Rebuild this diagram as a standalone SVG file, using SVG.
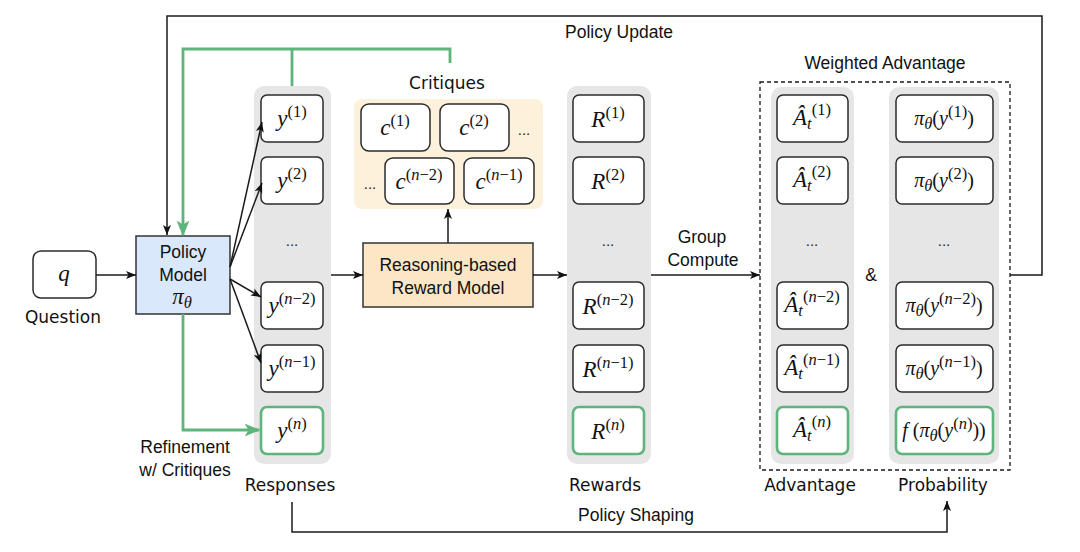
<svg xmlns="http://www.w3.org/2000/svg" width="1080" height="552" viewBox="0 0 1080 552">
<defs>
<style>
.bx{fill:#fff;stroke:#2b2b2b;stroke-width:1.5}
.gb{fill:#fff;stroke:#5fb47c;stroke-width:2.6}
.col{fill:#e6e6e6;stroke:none}
.ln{fill:none;stroke:#1a1a1a;stroke-width:1.5}
.gl{fill:none;stroke:#5fb47c;stroke-width:2.8}
.t{font-family:"Liberation Sans",Arial,sans-serif;font-size:17.5px;fill:#111;text-anchor:middle}
.c{font-family:"DejaVu Sans",sans-serif;font-size:17px;fill:#111;text-anchor:middle}
.m{font-family:"Liberation Serif","Times New Roman",serif;font-size:23px;fill:#111;text-anchor:middle}
.p{font-family:"Liberation Serif","Times New Roman",serif;font-size:20px;fill:#111;text-anchor:middle}
.i{font-style:italic}
.s{font-size:16.5px}
.d{font-family:"Liberation Sans",Arial,sans-serif;font-size:15px;fill:#222;text-anchor:middle}
</style>
<marker id="ah" viewBox="0 0 10 10" refX="10" refY="5" markerWidth="10" markerHeight="10" markerUnits="userSpaceOnUse" orient="auto"><path d="M0,1 L10,5 L0,9 L2.5,5 z" fill="#111"/></marker>
<marker id="gh" viewBox="0 0 10 10" refX="9" refY="5" markerWidth="16" markerHeight="16" markerUnits="userSpaceOnUse" orient="auto"><path d="M0,1 L10,5 L0,9 L2.5,5 z" fill="#5fb47c"/></marker>
</defs>
<rect width="1080" height="552" fill="#fff"/>

<g id="question">
<rect class="bx" x="33" y="251" width="63" height="47" rx="8"/>
<text class="m i" x="64" y="281">q</text>
<text class="c" x="63" y="323">Question</text>
</g>

<g id="policy-model">
<rect x="136" y="236" width="94" height="78" fill="#dae8fc" stroke="#333" stroke-width="1.5"/>
<text class="t" x="183" y="258">Policy</text>
<text class="t" x="183" y="281">Model</text>
<text class="m" x="182" y="304"><tspan class="i">π</tspan><tspan class="i s" dy="4">θ</tspan></text>
</g>

<g id="responses">
<rect class="col" x="254" y="86" width="77" height="378" rx="10"/>
<rect class="bx" x="261" y="95" width="62" height="47" rx="6"/>
<text class="m" x="292" y="126"><tspan class="i">y</tspan><tspan class="s" dy="-9">(1)</tspan></text>
<rect class="bx" x="261" y="157" width="62" height="47" rx="6"/>
<text class="m" x="292" y="188"><tspan class="i">y</tspan><tspan class="s" dy="-9">(2)</tspan></text>
<text class="d" x="292" y="246">...</text>
<rect class="bx" x="261" y="282" width="62" height="47" rx="6"/>
<text class="m" x="292" y="313"><tspan class="i">y</tspan><tspan class="s" dy="-9">(<tspan class="i">n</tspan>−2)</tspan></text>
<rect class="bx" x="261" y="345" width="62" height="47" rx="6"/>
<text class="m" x="292" y="376"><tspan class="i">y</tspan><tspan class="s" dy="-9">(<tspan class="i">n</tspan>−1)</tspan></text>
<rect class="gb" x="261" y="407" width="62" height="47" rx="6"/>
<text class="m" x="292" y="438"><tspan class="i">y</tspan><tspan class="s" dy="-9">(<tspan class="i">n</tspan>)</tspan></text>
<text class="c" x="290" y="491">Responses</text>
</g>

<g id="critiques">
<text class="c" x="447" y="89">Critiques</text>
<rect x="354" y="99" width="189" height="110" rx="8" fill="#fdf1dc"/>
<rect class="bx" x="361" y="104" width="69" height="47" rx="8"/>
<text class="m" x="395" y="135"><tspan class="i">c</tspan><tspan class="s" dy="-9">(1)</tspan></text>
<rect class="bx" x="440" y="104" width="69" height="47" rx="8"/>
<text class="m" x="474" y="135"><tspan class="i">c</tspan><tspan class="s" dy="-9">(2)</tspan></text>
<text class="d" x="524" y="135">...</text>
<text class="d" x="370" y="189">...</text>
<rect class="bx" x="385" y="158" width="69" height="46" rx="8"/>
<text class="m" x="419" y="189"><tspan class="i">c</tspan><tspan class="s" dy="-9">(<tspan class="i">n</tspan>−2)</tspan></text>
<rect class="bx" x="464" y="158" width="70" height="46" rx="8"/>
<text class="m" x="499" y="189"><tspan class="i">c</tspan><tspan class="s" dy="-9">(<tspan class="i">n</tspan>−1)</tspan></text>
</g>

<g id="reward-model">
<rect x="363" y="243" width="170" height="64" fill="#fbe6c6" stroke="#333" stroke-width="1.5"/>
<text class="t" x="448" y="271">Reasoning-based</text>
<text class="t" x="448" y="294">Reward Model</text>
</g>

<g id="rewards">
<rect class="col" x="567" y="86" width="84" height="378" rx="10"/>
<rect class="bx" x="573" y="95" width="71" height="47" rx="6"/>
<text class="m" x="608" y="127"><tspan class="i">R</tspan><tspan class="s" dy="-9">(1)</tspan></text>
<rect class="bx" x="573" y="157" width="71" height="47" rx="6"/>
<text class="m" x="608" y="189"><tspan class="i">R</tspan><tspan class="s" dy="-9">(2)</tspan></text>
<text class="d" x="608" y="246">...</text>
<rect class="bx" x="573" y="282" width="71" height="47" rx="6"/>
<text class="m" x="608" y="314"><tspan class="i">R</tspan><tspan class="s" dy="-9">(<tspan class="i">n</tspan>−2)</tspan></text>
<rect class="bx" x="573" y="345" width="71" height="47" rx="6"/>
<text class="m" x="608" y="377"><tspan class="i">R</tspan><tspan class="s" dy="-9">(<tspan class="i">n</tspan>−1)</tspan></text>
<rect class="gb" x="573" y="407" width="71" height="47" rx="6"/>
<text class="m" x="608" y="439"><tspan class="i">R</tspan><tspan class="s" dy="-9">(<tspan class="i">n</tspan>)</tspan></text>
<text class="c" x="605" y="491">Rewards</text>
</g>

<g id="weighted-advantage">
<text class="t" x="885" y="69">Weighted Advantage</text>
<rect x="760" y="82" width="250" height="388" fill="none" stroke="#1a1a1a" stroke-width="1.3" stroke-dasharray="4 3"/>
<text class="t" x="871" y="281">&amp;</text>
</g>

<g id="advantage">
<rect class="col" x="771" y="87" width="83" height="377" rx="10"/>
<rect class="bx" x="777" y="95" width="71" height="47" rx="6"/>
<text class="m" x="812" y="125"><tspan class="i">Â</tspan><tspan class="i s" dy="4">t</tspan><tspan class="s" dy="-14">(1)</tspan></text>
<rect class="bx" x="777" y="157" width="71" height="47" rx="6"/>
<text class="m" x="812" y="187"><tspan class="i">Â</tspan><tspan class="i s" dy="4">t</tspan><tspan class="s" dy="-14">(2)</tspan></text>
<text class="d" x="812" y="246">...</text>
<rect class="bx" x="777" y="282" width="71" height="47" rx="6"/>
<text class="m" x="812" y="312"><tspan class="i">Â</tspan><tspan class="i s" dy="4">t</tspan><tspan class="s" dy="-14">(<tspan class="i">n</tspan>−2)</tspan></text>
<rect class="bx" x="777" y="345" width="71" height="47" rx="6"/>
<text class="m" x="812" y="375"><tspan class="i">Â</tspan><tspan class="i s" dy="4">t</tspan><tspan class="s" dy="-14">(<tspan class="i">n</tspan>−1)</tspan></text>
<rect class="gb" x="777" y="407" width="71" height="47" rx="6"/>
<text class="m" x="812" y="437"><tspan class="i">Â</tspan><tspan class="i s" dy="4">t</tspan><tspan class="s" dy="-14">(<tspan class="i">n</tspan>)</tspan></text>
<text class="c" x="810" y="491">Advantage</text>
</g>

<g id="probability">
<rect class="col" x="889" y="87" width="110" height="377" rx="10"/>
<rect class="bx" x="896" y="95" width="97" height="47" rx="6"/>
<text class="p" x="944" y="125"><tspan class="i">π</tspan><tspan class="i s" dy="4">θ</tspan><tspan dy="-4">(</tspan><tspan class="i">y</tspan><tspan class="s" dy="-8">(1)</tspan><tspan dy="8">)</tspan></text>
<rect class="bx" x="896" y="157" width="97" height="47" rx="6"/>
<text class="p" x="944" y="187"><tspan class="i">π</tspan><tspan class="i s" dy="4">θ</tspan><tspan dy="-4">(</tspan><tspan class="i">y</tspan><tspan class="s" dy="-8">(2)</tspan><tspan dy="8">)</tspan></text>
<text class="d" x="944" y="246">...</text>
<rect class="bx" x="896" y="282" width="97" height="47" rx="6"/>
<text class="p" x="944" y="312"><tspan class="i">π</tspan><tspan class="i s" dy="4">θ</tspan><tspan dy="-4">(</tspan><tspan class="i">y</tspan><tspan class="s" dy="-8">(<tspan class="i">n</tspan>−2)</tspan><tspan dy="8">)</tspan></text>
<rect class="bx" x="896" y="345" width="97" height="47" rx="6"/>
<text class="p" x="944" y="375"><tspan class="i">π</tspan><tspan class="i s" dy="4">θ</tspan><tspan dy="-4">(</tspan><tspan class="i">y</tspan><tspan class="s" dy="-8">(<tspan class="i">n</tspan>−1)</tspan><tspan dy="8">)</tspan></text>
<rect class="gb" x="896" y="407" width="97" height="47" rx="6"/>
<text class="p" x="944" y="437"><tspan class="i">f</tspan><tspan> (</tspan><tspan class="i">π</tspan><tspan class="i s" dy="4">θ</tspan><tspan dy="-4">(</tspan><tspan class="i">y</tspan><tspan class="s" dy="-8">(<tspan class="i">n</tspan>)</tspan><tspan dy="8">))</tspan></text>
<text class="c" x="943" y="491">Probability</text>
</g>

<g id="connectors">
<path class="ln" d="M1010,275 H1042 V16 H167 V235" marker-end="url(#ah)"/>
<path class="gl" d="M450,63 V49 H183 V235" marker-end="url(#gh)"/>
<path class="gl" d="M292,86 V49"/>
<path class="gl" d="M183,314 V430 H259" marker-end="url(#gh)"/>
<line class="ln" x1="96" y1="275" x2="136" y2="275" marker-end="url(#ah)"/>
<line class="ln" x1="230" y1="267" x2="262" y2="122" marker-end="url(#ah)"/>
<line class="ln" x1="230" y1="267" x2="262" y2="183" marker-end="url(#ah)"/>
<line class="ln" x1="230" y1="279" x2="261" y2="297" marker-end="url(#ah)"/>
<line class="ln" x1="230" y1="279" x2="261" y2="363" marker-end="url(#ah)"/>
<line class="ln" x1="331" y1="275" x2="363" y2="275" marker-end="url(#ah)"/>
<line class="ln" x1="448" y1="243" x2="448" y2="209" marker-end="url(#ah)"/>
<line class="ln" x1="533" y1="275" x2="567" y2="275" marker-end="url(#ah)"/>
<line class="ln" x1="651" y1="275" x2="760" y2="275" marker-end="url(#ah)"/>
<path class="ln" d="M292,502 V532 H947 V501" marker-end="url(#ah)"/>
<text class="t" x="619" y="38">Policy Update</text>
<text class="t" x="636" y="521">Policy Shaping</text>
<text class="t" x="702" y="243">Group</text>
<text class="t" x="703" y="266">Compute</text>
<text class="t" x="185" y="453">Refinement</text>
<text class="t" x="185" y="476">w/ Critiques</text>
</g>
</svg>
